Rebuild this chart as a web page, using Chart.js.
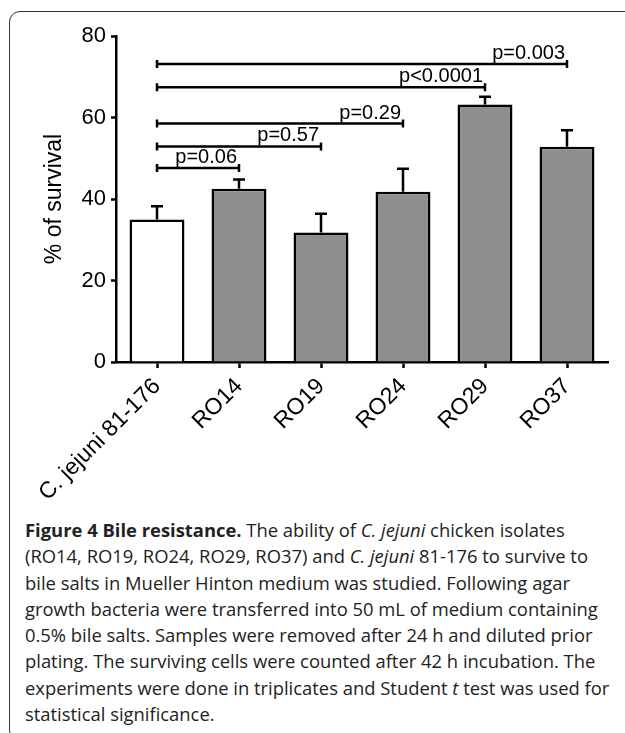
<!DOCTYPE html>
<html lang="en">
<head>
<meta charset="UTF-8">
<title>Figure 4 Bile resistance</title>
<script src="https://cdn.jsdelivr.net/npm/chart.js"></script>
<style>
    body {
        margin: 0;
        background: #fff;
        width: 625px;
        height: 733px;
        overflow: hidden;
        position: relative;
    }
    .frame {
        position: absolute;
        left: 9px;
        top: 11px;
        width: 660px;
        height: 730px;
        border: 1.5px solid #333;
        border-radius: 11px;
        box-sizing: border-box;
    }
    #bileChart {
        position: absolute;
        left: 0;
        top: 0;
    }
    .caption {
        position: absolute;
        left: 25px;
        top: 517px;
        width: 600px;
        font-family: "Open Sans", sans-serif;
        font-size: 18.4px;
        line-height: 26.3px;
        color: #222;
        white-space: nowrap;
    }
    .caption b { font-weight: 700; }
</style>
</head>
<body>

<div class="frame"></div>
<canvas id="bileChart" width="625" height="510"></canvas>

<div class="caption">
    <b>Figure 4 Bile resistance.</b> The ability of <i>C. jejuni</i> chicken isolates<br>
    (RO14, RO19, RO24, RO29, RO37) and <i>C. jejuni</i> 81-176 to survive to<br>
    bile salts in Mueller Hinton medium was studied. Following agar<br>
    growth bacteria were transferred into 50 mL of medium containing<br>
    0.5% bile salts. Samples were removed after 24 h and diluted prior<br>
    plating. The surviving cells were counted after 42 h incubation. The<br>
    experiments were done in triplicates and Student <i>t</i> test was used for<br>
    statistical significance.
</div>

<script>
    // data
    const strains = ['C. jejuni 81-176', 'RO14', 'RO19', 'RO24', 'RO29', 'RO37'];
    const survival = [35.0, 42.5, 31.8, 41.8, 63.2, 52.8];
    const sem = [3.2, 2.3, 4.6, 5.6, 1.9, 4.1];

    // significance brackets, all against C. jejuni 81-176 (index 0)
    const compareTo = [1, 2, 3, 4, 5];
    const bracketLevel = [47.6, 52.9, 58.5, 67.4, 73.1];
    const pLabels = ['p=0.06', 'p=0.57', 'p=0.29', 'p<0.0001', 'p=0.003'];

    const yMin = 0, yMax = 80, yStep = 20;

    const FONT = '"Liberation Sans", Arial, sans-serif';

    // error bars (upper half only, like the original)
    const errorBars = {
        id: 'errorBars',
        afterDatasetsDraw(chart) {
            const ctx = chart.ctx;
            const y = chart.scales.y;
            const meta = chart.getDatasetMeta(0);
            ctx.save();
            ctx.strokeStyle = '#000';
            ctx.lineWidth = 2.5;
            meta.data.forEach((bar, i) => {
                const top = y.getPixelForValue(survival[i]);
                const end = y.getPixelForValue(survival[i] + sem[i]);
                ctx.beginPath();
                ctx.moveTo(bar.x, top);
                ctx.lineTo(bar.x, end);
                ctx.moveTo(bar.x - 6, end);
                ctx.lineTo(bar.x + 6, end);
                ctx.stroke();
            });
            ctx.restore();
        }
    };

    // p-value brackets
    const sigBrackets = {
        id: 'sigBrackets',
        afterDatasetsDraw(chart) {
            const ctx = chart.ctx;
            const x = chart.scales.x;
            const y = chart.scales.y;
            ctx.save();
            ctx.strokeStyle = '#000';
            ctx.fillStyle = '#000';
            ctx.lineWidth = 2.5;
            ctx.font = '20px ' + FONT;
            ctx.textAlign = 'right';
            ctx.textBaseline = 'alphabetic';
            compareTo.forEach((j, k) => {
                const x0 = x.getPixelForValue(0);
                const x1 = x.getPixelForValue(j);
                const yy = y.getPixelForValue(bracketLevel[k]);
                ctx.beginPath();
                ctx.moveTo(x0, yy);
                ctx.lineTo(x1, yy);
                ctx.moveTo(x0, yy - 4);
                ctx.lineTo(x0, yy + 4);
                ctx.moveTo(x1, yy - 4);
                ctx.lineTo(x1, yy + 4);
                ctx.stroke();
                ctx.fillText(pLabels[k], x1 - 2, yy - 5);
            });
            ctx.restore();
        }
    };

    const ctx = document.getElementById('bileChart').getContext('2d');
    const bileChart = new Chart(ctx, {
        type: 'bar',
        data: {
            labels: strains,
            datasets: [{
                label: '% of survival',
                data: survival,
                backgroundColor: strains.map((s, i) => i === 0 ? '#ffffff' : '#8e8e8e'),
                borderColor: '#000',
                borderWidth: 2.5,
                barPercentage: 0.67,
                categoryPercentage: 1
            }]
        },
        options: {
            responsive: false,
            animation: false,
            layout: {
                padding: { top: 36, right: 17, left: 0, bottom: 0 }
            },
            plugins: {
                legend: { display: false },
                tooltip: { enabled: false }
            },
            scales: {
                x: {
                    offset: true,
                    grid: {
                        drawOnChartArea: false,
                        offset: false,
                        tickLength: 6,
                        tickWidth: 2.5,
                        tickColor: '#000'
                    },
                    border: { color: '#000', width: 2.5 },
                    ticks: {
                        autoSkip: false,
                        minRotation: 45,
                        maxRotation: 45,
                        padding: 5,
                        color: '#000',
                        font: { family: FONT, size: 23 }
                    },
                    afterFit(scale) { scale.height = 148; }
                },
                y: {
                    min: yMin,
                    max: yMax,
                    grid: {
                        drawOnChartArea: false,
                        tickLength: 5,
                        tickWidth: 2.5,
                        tickColor: '#000'
                    },
                    border: { color: '#000', width: 2.5 },
                    ticks: {
                        stepSize: yStep,
                        padding: 5,
                        color: '#000',
                        font: { family: FONT, size: 22 }
                    },
                    title: {
                        display: true,
                        text: '% of survival',
                        color: '#000',
                        font: { family: FONT, size: 23 },
                        padding: { top: 41, bottom: 0 }
                    },
                    afterFit(scale) { scale.width = 116; }
                }
            }
        },
        plugins: [errorBars, sigBrackets]
    });
</script>

</body>
</html>
